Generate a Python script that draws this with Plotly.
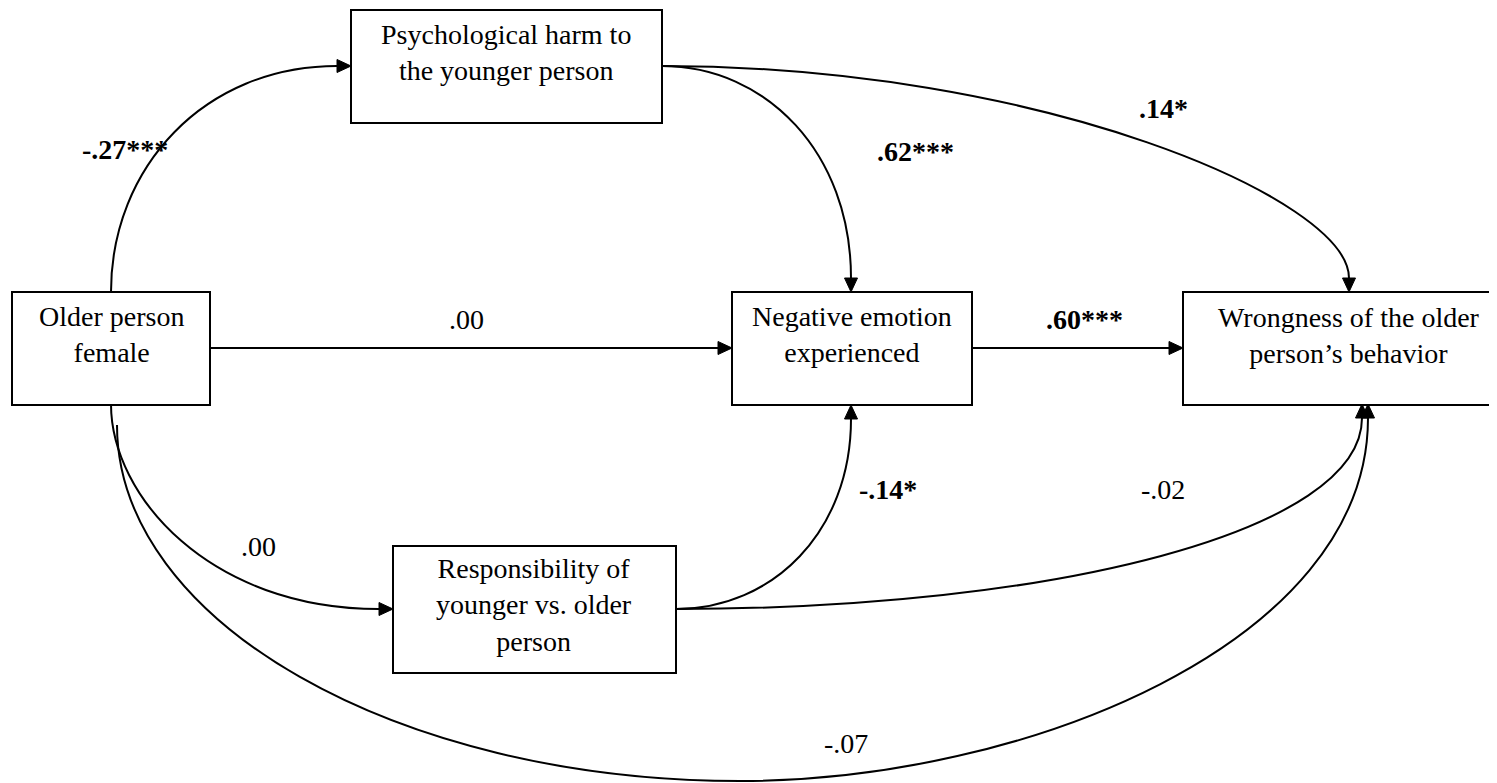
import plotly.graph_objects as go

# ---------------- data ----------------
node_ids = ["older", "harm", "emotion", "wrong", "resp"]
node_labels = [
    "Older person<br>female",
    "Psychological harm to<br>the younger person",
    "Negative emotion<br>experienced",
    "Wrongness of the older<br>person\u2019s behavior",
    "Responsibility of<br>younger vs. older<br>person",
]
path_from = ["older", "harm", "harm", "older", "emotion", "older", "resp", "resp", "older"]
path_to = ["harm", "emotion", "wrong", "emotion", "wrong", "resp", "emotion", "wrong", "wrong"]
path_coef = ["-.27***", ".62***", ".14*", ".00", ".60***", ".00", "-.14*", "-.02", "-.07"]
path_significant = [True, True, True, False, True, False, True, False, False]

# ---------------- layout geometry (pixels, y downwards) ----------------
W, H = 1497, 783
PAGE_MARGIN = 8  # default body margin of the html page
FONT = "Liberation Serif, Times New Roman, serif"
FS = 28
box_rect = {
    "older": (12, 292, 210, 405),
    "harm": (351, 10, 662, 123),
    "emotion": (732, 292, 972, 405),
    "wrong": (1183, 292, 1530, 405),
    "resp": (393, 546, 676, 673),
}
box_text_pos = {
    "older": (111, 334),
    "harm": (506, 52),
    "emotion": (852, 334),
    "wrong": (1349, 335),
    "resp": (534, 605),
}
# geometry of each path: start, tip, kind, k1, k2
path_geom = [
    ((111, 292), (351, 66), "v", 0.5523, 0.5523),
    ((662, 66), (851, 292), "h", 0.5523, 0.5523),
    ((662, 66), (1349, 292), "h", 0.55, 0.35),
    ((210, 348), (732, 348), "s", 0, 0),
    ((972, 348), (1183, 348), "s", 0, 0),
    ((111, 404), (393, 609), "v", 0.45, 0.6),
    ((676, 609), (851, 405), "h", 0.5523, 0.5523),
    ((676, 609), (1362, 404), "h", 0.5523, 0.5523),
    (None, (1368, 404), "big", 0, 0),
]
label_pos = [
    (125, 149), (915, 151), (1163, 108), (466, 319), (1084, 319),
    (258, 546), (888, 489), (1163, 489), (846, 743),
]

AL, AW = 14, 6.5  # arrowhead length / half width


def sgn(v):
    return 1 if v > 0 else -1


def arrowhead(tip, d):
    tx, ty = tip
    dx, dy = d
    bx, by = tx - dx * AL, ty - dy * AL
    px, py = -dy, dx
    return (f"M {tx},{ty} L {bx + px * AW},{by + py * AW} "
            f"L {bx - px * AW},{by - py * AW} Z")


def quarter(S, E, kind, k1, k2):
    sx, sy = S
    ex, ey = E
    if kind == "v":
        p1 = (sx, sy + k1 * (ey - sy))
        p2 = (ex - k2 * (ex - sx), ey)
        d = (sgn(ex - sx), 0)
    else:
        p1 = (sx + k1 * (ex - sx), sy)
        p2 = (ex, ey - k2 * (ey - sy))
        d = (0, sgn(ey - sy))
    bx, by = ex - d[0] * AL, ey - d[1] * AL
    p2 = (p2[0] - d[0] * AL, p2[1] - d[1] * AL)
    path = f"M {sx},{sy} C {p1[0]},{p1[1]} {p2[0]},{p2[1]} {bx},{by}"
    return path, d


shapes = []
line_style = dict(color="black", width=2)

# boxes
for nid in node_ids:
    x0, y0, x1, y1 = box_rect[nid]
    shapes.append(dict(type="rect", xref="x", yref="y", x0=x0, y0=y0, x1=x1, y1=y1,
                       line=line_style, fillcolor="rgba(0,0,0,0)", layer="above"))

# paths
for (S, T, kind, k1, k2) in path_geom:
    if kind == "s":
        d = (sgn(T[0] - S[0]), 0)
        path = f"M {S[0]},{S[1]} L {T[0] - d[0] * AL},{T[1]}"
    elif kind == "big":
        # long curve from Older person female down and around to Wrongness
        S0, M0 = (117, 425), (740, 781)
        p1 = (S0[0], S0[1] + 0.5523 * (M0[1] - S0[1]))
        p2 = (M0[0] - 0.5523 * (M0[0] - S0[0]), M0[1])
        d = (0, -1)
        bx, by = T[0], T[1] + AL
        q1 = (M0[0] + 0.45 * (T[0] - M0[0]), M0[1])
        q2 = (T[0], T[1] + 0.6 * (M0[1] - T[1]))
        path = (f"M {S0[0]},{S0[1]} C {p1[0]},{p1[1]} {p2[0]},{p2[1]} {M0[0]},{M0[1]} "
                f"C {q1[0]},{q1[1]} {q2[0]},{q2[1] + AL} {bx},{by}")
    else:
        path, d = quarter(S, T, kind, k1, k2)
    shapes.append(dict(type="path", xref="x", yref="y", path=path, line=line_style,
                       layer="above"))
    shapes.append(dict(type="path", xref="x", yref="y", path=arrowhead(T, d),
                       line=dict(color="black", width=1), fillcolor="black", layer="above"))

annotations = []
for nid, lab in zip(node_ids, node_labels):
    x, y = box_text_pos[nid]
    annotations.append(dict(x=x, y=y, xref="x", yref="y", text=lab, showarrow=False,
                            xanchor="center", yanchor="middle", align="center",
                            font=dict(family=FONT, size=FS, color="black")))
for (x, y), coef, sig in zip(label_pos, path_coef, path_significant):
    txt = f"<b>{coef}</b>" if sig else coef
    annotations.append(dict(x=x, y=y, xref="x", yref="y", text=txt, showarrow=False,
                            xanchor="center", yanchor="middle",
                            font=dict(family=FONT, size=FS, color="black")))

fig = go.Figure()
fig.add_trace(go.Scatter(x=[], y=[], mode="markers", hoverinfo="skip", showlegend=False))
fig.update_layout(
    width=W - PAGE_MARGIN, height=H - PAGE_MARGIN, autosize=False,
    margin=dict(l=0, r=0, t=0, b=0),
    paper_bgcolor="white", plot_bgcolor="white",
    xaxis=dict(range=[PAGE_MARGIN, W], visible=False, fixedrange=True),
    yaxis=dict(range=[H, PAGE_MARGIN], visible=False, fixedrange=True),
    shapes=shapes, annotations=annotations, showlegend=False,
)
fig.write_html("out.html", config={"displayModeBar": False})
